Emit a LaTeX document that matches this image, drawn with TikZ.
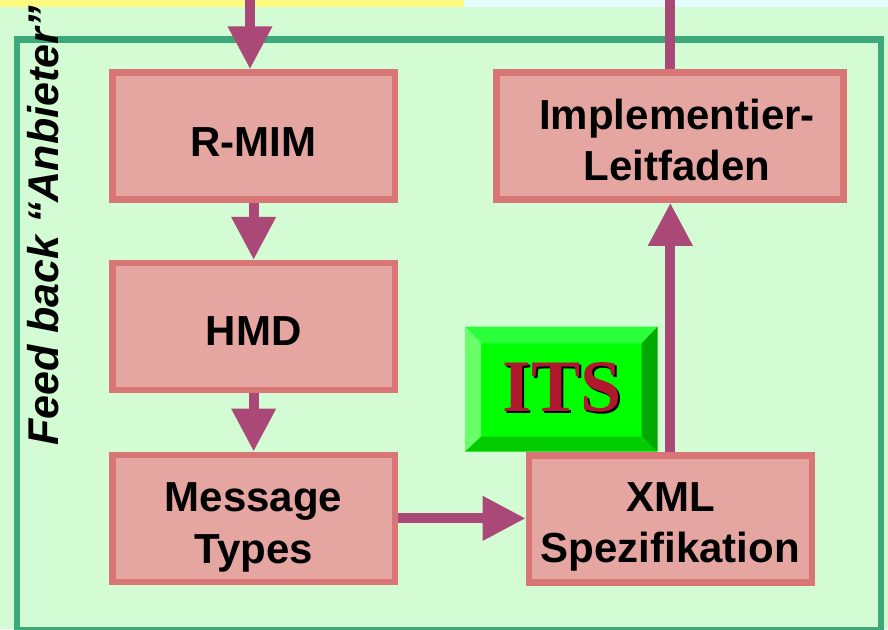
\documentclass[tikz,border=0pt]{standalone}
\usepackage{fontspec}
\setmainfont{Liberation Sans}
\newfontfamily\itsfont{Liberation Serif}
\usetikzlibrary{arrows.meta}
\definecolor{bg}{RGB}{212,252,212}
\definecolor{stripy}{RGB}{255,250,128}
\definecolor{stripc}{RGB}{228,252,252}
\definecolor{frameg}{RGB}{61,168,122}
\definecolor{boxfill}{RGB}{229,165,160}
\definecolor{boxline}{RGB}{216,118,118}
\definecolor{arrowc}{RGB}{170,72,120}
\definecolor{itsred}{RGB}{176,24,45}
\definecolor{bevtop}{RGB}{43,255,60}
\definecolor{bevleft}{RGB}{104,255,104}
\definecolor{bevright}{RGB}{0,168,0}
\definecolor{bevbot}{RGB}{0,204,0}
\definecolor{bevmid}{RGB}{0,255,0}
\tikzset{
  box/.style={draw=boxline, fill=boxfill, line width=6.5pt, align=center,
    inner sep=0pt, font=\fontsize{42}{51.5}\selectfont\bfseries},
  flow/.style={draw=arrowc, line width=10pt, -{Triangle[width=42pt,length=43pt]}},
  plainflow/.style={draw=arrowc, line width=10pt},
}
\begin{document}
\begin{tikzpicture}[x=1pt,y=-1pt]
\useasboundingbox (0,0) rectangle (888,629);
% background
\fill[bg] (0,0) rectangle (888,629);
\fill[stripy] (0,0) rectangle (464,6.7);
\fill[stripc] (464,0) rectangle (888,6.7);
% frame
\draw[frameg, line width=6.5pt] (17,39.5) rectangle (881,630.5);
% feedback label
\node[rotate=90, font=\fontsize{43}{50}\selectfont\bfseries\itshape, inner sep=0pt]
  (feed) at (43,226) {Feed back “Anbieter”};
% boxes
\node[box, minimum width=282.5pt, minimum height=127pt] (rmim) at (253.65,136)
  {\rule{0pt}{41pt}R-MIM};
\node[box, minimum width=282.5pt, minimum height=127pt] (hmd) at (253.65,326.65)
  {\rule{0pt}{37pt}HMD};
\node[box, minimum width=282.5pt, minimum height=127pt] (mt) at (253.65,518.35)
  {\rule{0pt}{47pt}Message\\Types};
\node[box, minimum width=282.8pt, minimum height=127pt] (xml) at (670.35,519)
  {\rule{0pt}{44.4pt}XML\\Spezifikation};
\node[box, minimum width=347pt, minimum height=127pt] (impl) at (670,136)
  {\rule{0pt}{38.5pt}\hspace*{14pt}Implementier-\\\hspace*{14pt}Leitfaden};
% ITS button
\fill[bevmid] (481,343.3) rectangle (641.7,436.7);
\fill[bevtop] (465,326.7) -- (657.5,326.7) -- (641.7,343.3) -- (481,343.3) -- cycle;
\fill[bevleft] (465,326.7) -- (481,343.3) -- (481,436.7) -- (465,451.7) -- cycle;
\fill[bevright] (657.5,326.7) -- (657.5,451.7) -- (641.7,436.7) -- (641.7,343.3) -- cycle;
\fill[bevbot] (465,451.7) -- (481,436.7) -- (641.7,436.7) -- (657.5,451.7) -- cycle;
\node[font=\fontsize{74}{80}\selectfont\itsfont\bfseries, inner sep=0pt]
  (its) at (562.5,388.5)
  {\rlap{\hspace{2pt}\raisebox{-2pt}{\color{black}ITS}}{\color{itsred}ITS}};
% connectors
\coordinate (topL) at (250,0);
\coordinate (topR) at (670,0);
\draw[flow] (topL) -- (topL |- rmim.north);
\draw[flow] (rmim.south) -- (hmd.north);
\draw[flow] (hmd.south) -- (mt.north);
\draw[flow] (mt.east) -- (mt.east -| xml.west);
\draw[flow] (xml.north) -- (xml.north |- impl.south);
\draw[plainflow] (impl.north) -- (impl.north |- topR);
\end{tikzpicture}
\end{document}
